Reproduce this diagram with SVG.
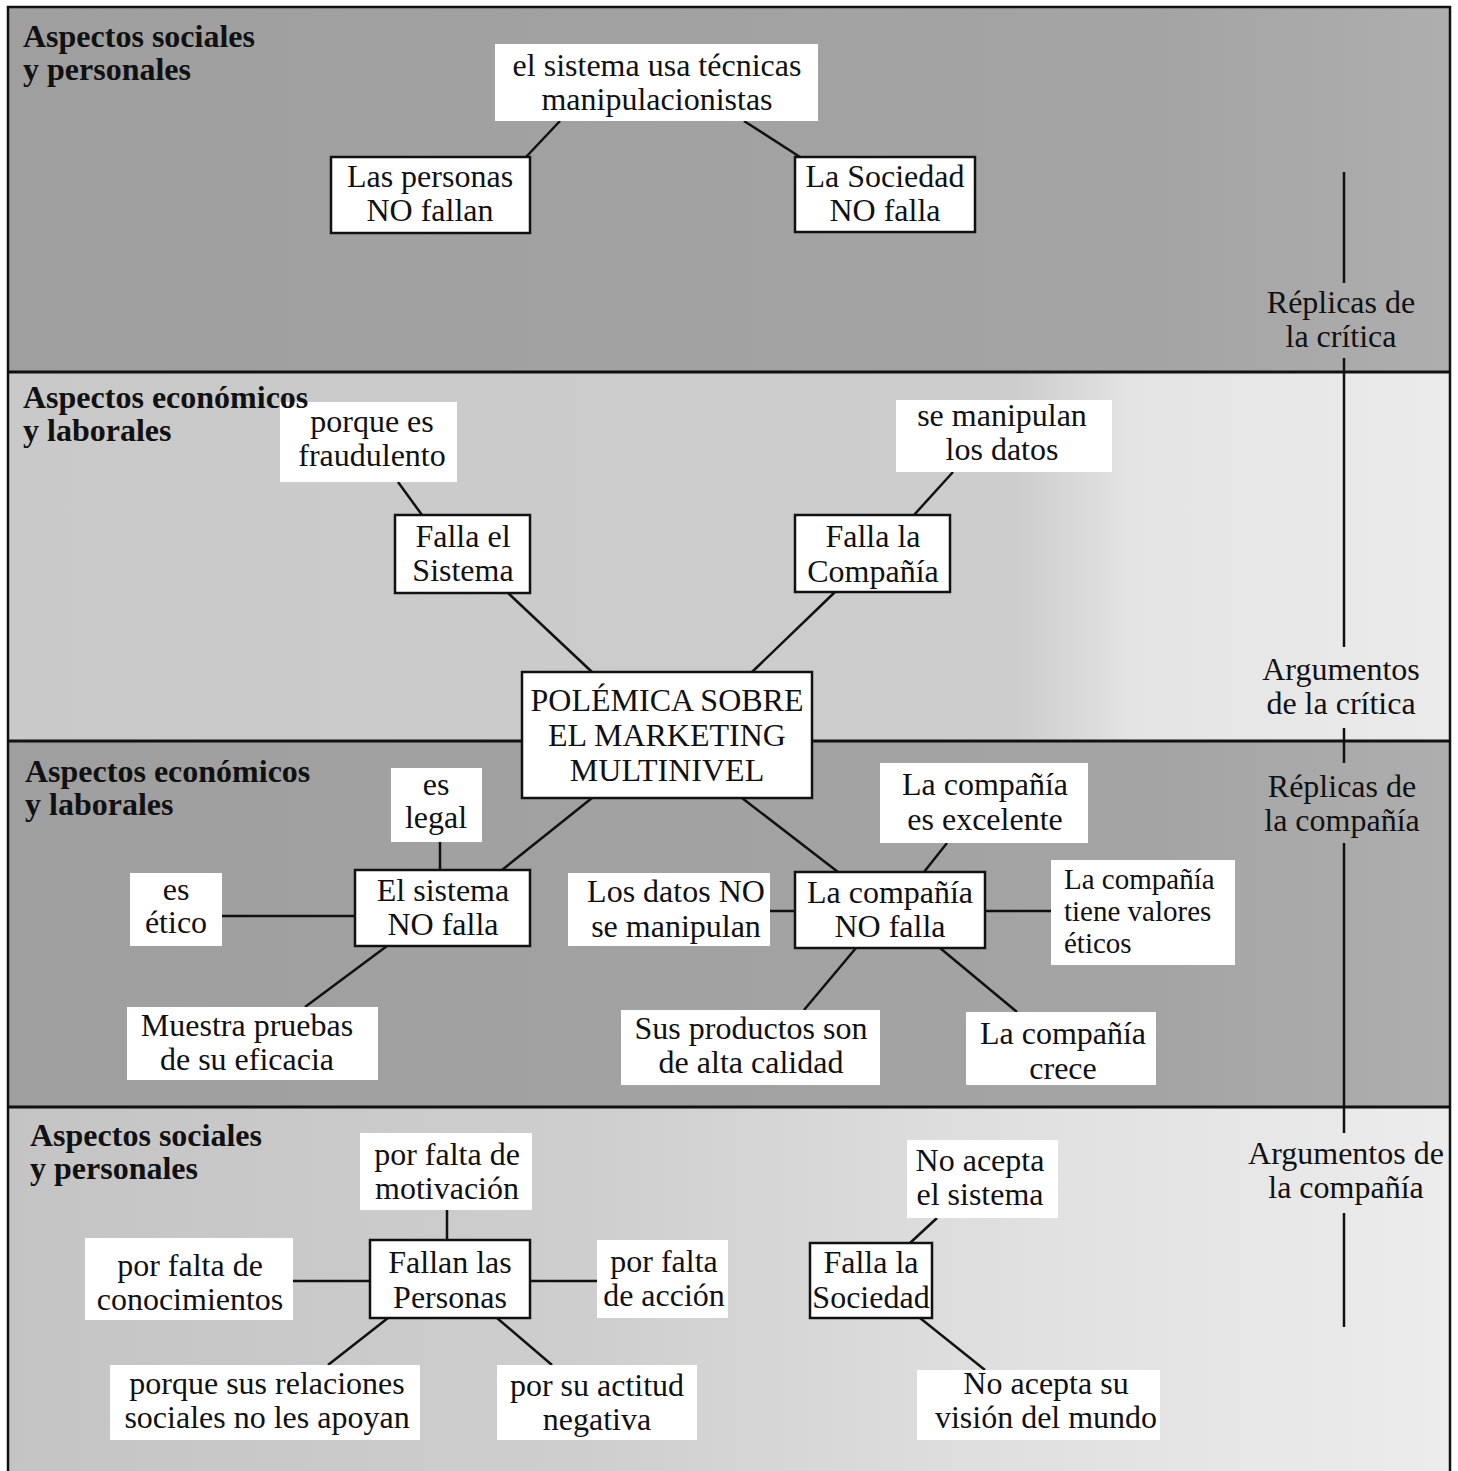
<svg xmlns="http://www.w3.org/2000/svg" width="1458" height="1471" viewBox="0 0 1458 1471">
  <defs>
    <linearGradient id="bandLight1" x1="0" y1="0" x2="1" y2="0">
      <stop offset="0" stop-color="#c9c9c9"/>
      <stop offset="0.7" stop-color="#cdcdcd"/>
      <stop offset="0.78" stop-color="#e4e4e4"/>
      <stop offset="1" stop-color="#ebebeb"/>
    </linearGradient>
    <linearGradient id="bandLight2" x1="0" y1="0" x2="1" y2="0">
      <stop offset="0" stop-color="#c4c4c4"/>
      <stop offset="0.4" stop-color="#cecece"/>
      <stop offset="0.7" stop-color="#e0e0e0"/>
      <stop offset="1" stop-color="#ececec"/>
    </linearGradient>
    <linearGradient id="bandDark" x1="0" y1="0" x2="1" y2="0">
      <stop offset="0" stop-color="#9f9f9f"/>
      <stop offset="0.8" stop-color="#a4a4a4"/>
      <stop offset="1" stop-color="#aeaeae"/>
    </linearGradient>
  </defs>
  <style>
    .box { fill: #ffffff; stroke: #111111; stroke-width: 2.5; }
    .note { fill: #ffffff; stroke: none; }
    text { font-family: "Liberation Serif", "Times New Roman", serif; fill: #111111; }
    .t { font-size: 32px; text-anchor: middle; }
    .tl { font-size: 29px; text-anchor: start; }
    .hd { font-size: 32px; font-weight: bold; }
    .side { font-size: 32px; text-anchor: middle; }
    .links line { stroke: #111111; stroke-width: 2.5; }
    .band-edge { stroke: #111111; stroke-width: 3; }
  </style>

  <rect x="0" y="0" width="1458" height="1471" fill="#ffffff"/>

  <!-- horizontal bands -->
  <g id="bands">
    <rect x="8" y="7" width="1442" height="365" fill="url(#bandDark)"/>
    <rect x="8" y="372" width="1442" height="369" fill="url(#bandLight1)"/>
    <rect x="8" y="741" width="1442" height="366" fill="url(#bandDark)"/>
    <rect x="8" y="1107" width="1442" height="370" fill="url(#bandLight2)"/>
    <line class="band-edge" x1="8" y1="372" x2="1450" y2="372"/>
    <line class="band-edge" x1="8" y1="741" x2="1450" y2="741"/>
    <line class="band-edge" x1="8" y1="1107" x2="1450" y2="1107"/>
    <path d="M8,1475 V7 H1450 V1475" fill="none" stroke="#111111" stroke-width="2.5"/>
  </g>

  <!-- side axis with its labels -->
  <g id="side-axis">
    <g class="links">
      <line x1="1344" y1="172" x2="1344" y2="283"/>
      <line x1="1344" y1="358" x2="1344" y2="647"/>
      <line x1="1344" y1="728" x2="1344" y2="763"/>
      <line x1="1344" y1="843" x2="1344" y2="1133"/>
      <line x1="1344" y1="1213" x2="1344" y2="1327"/>
    </g>
    <text class="side" x="1341" y="313">Réplicas de</text>
    <text class="side" x="1341" y="347">la crítica</text>
    <text class="side" x="1341" y="680">Argumentos</text>
    <text class="side" x="1341" y="714">de la crítica</text>
    <text class="side" x="1342" y="797">Réplicas de</text>
    <text class="side" x="1342" y="831">la compañía</text>
    <text class="side" x="1346" y="1164">Argumentos de</text>
    <text class="side" x="1346" y="1198">la compañía</text>
  </g>

  <!-- connectors -->
  <g id="connectors" class="links">
    <line x1="560" y1="121" x2="526" y2="157"/>
    <line x1="744" y1="121" x2="800" y2="157"/>
    <line x1="398" y1="482" x2="422" y2="515"/>
    <line x1="953" y1="472" x2="914" y2="515"/>
    <line x1="508" y1="593" x2="592" y2="672"/>
    <line x1="835" y1="592" x2="752" y2="672"/>
    <line x1="592" y1="798" x2="502" y2="870"/>
    <line x1="742" y1="798" x2="838" y2="872"/>
    <line x1="440" y1="842" x2="440" y2="870"/>
    <line x1="222" y1="916" x2="355" y2="916"/>
    <line x1="387" y1="946" x2="305" y2="1007"/>
    <line x1="770" y1="911" x2="795" y2="911"/>
    <line x1="947" y1="843" x2="924" y2="872"/>
    <line x1="985" y1="911" x2="1051" y2="911"/>
    <line x1="856" y1="948" x2="804" y2="1010"/>
    <line x1="940" y1="948" x2="1017" y2="1012"/>
    <line x1="447" y1="1210" x2="447" y2="1240"/>
    <line x1="293" y1="1281" x2="370" y2="1281"/>
    <line x1="530" y1="1281" x2="597" y2="1281"/>
    <line x1="388" y1="1318" x2="328" y2="1365"/>
    <line x1="497" y1="1318" x2="552" y2="1365"/>
    <line x1="937" y1="1218" x2="910" y2="1243"/>
    <line x1="920" y1="1318" x2="985" y2="1370"/>
  </g>

  <!-- nodes -->
  <g id="n-manip">
    <rect class="note" x="495" y="44" width="323" height="77"/>
    <text class="t" x="657" y="76">el sistema usa técnicas</text>
    <text class="t" x="657" y="110">manipulacionistas</text>
  </g>
  <g id="n-personas-no">
    <rect class="box" x="331" y="157" width="199" height="76"/>
    <text class="t" x="430" y="187">Las personas</text>
    <text class="t" x="430" y="221">NO fallan</text>
  </g>
  <g id="n-sociedad-no">
    <rect class="box" x="795" y="157" width="180" height="75"/>
    <text class="t" x="885" y="187">La Sociedad</text>
    <text class="t" x="885" y="221">NO falla</text>
  </g>
  <g id="n-fraud">
    <rect class="note" x="280" y="402" width="177" height="80"/>
    <text class="t" x="372" y="432">porque es</text>
    <text class="t" x="372" y="466">fraudulento</text>
  </g>
  <g id="n-falla-sistema">
    <rect class="box" x="395" y="515" width="135" height="78"/>
    <text class="t" x="463" y="547">Falla el</text>
    <text class="t" x="463" y="581">Sistema</text>
  </g>
  <g id="n-datos">
    <rect class="note" x="896" y="400" width="216" height="72"/>
    <text class="t" x="1002" y="426">se manipulan</text>
    <text class="t" x="1002" y="460">los datos</text>
  </g>
  <g id="n-falla-compania">
    <rect class="box" x="795" y="515" width="155" height="77"/>
    <text class="t" x="873" y="547">Falla la</text>
    <text class="t" x="873" y="582">Compañía</text>
  </g>
  <g id="n-polemica">
    <rect class="box" x="522" y="672" width="290" height="126"/>
    <text class="t" x="667" y="711">POLÉMICA SOBRE</text>
    <text class="t" x="667" y="746">EL MARKETING</text>
    <text class="t" x="667" y="781">MULTINIVEL</text>
  </g>
  <g id="n-legal">
    <rect class="note" x="391" y="768" width="91" height="74"/>
    <text class="t" x="436" y="795">es</text>
    <text class="t" x="436" y="828">legal</text>
  </g>
  <g id="n-etico">
    <rect class="note" x="130" y="873" width="92" height="73"/>
    <text class="t" x="176" y="900">es</text>
    <text class="t" x="176" y="933">ético</text>
  </g>
  <g id="n-sistema-no">
    <rect class="box" x="355" y="870" width="175" height="76"/>
    <text class="t" x="443" y="901">El sistema</text>
    <text class="t" x="443" y="935">NO falla</text>
  </g>
  <g id="n-pruebas">
    <rect class="note" x="127" y="1007" width="251" height="73"/>
    <text class="t" x="247" y="1036">Muestra pruebas</text>
    <text class="t" x="247" y="1070">de su eficacia</text>
  </g>
  <g id="n-datos-no">
    <rect class="note" x="568" y="873" width="202" height="73"/>
    <text class="t" x="676" y="902">Los datos NO</text>
    <text class="t" x="676" y="937">se manipulan</text>
  </g>
  <g id="n-compania-no">
    <rect class="box" x="795" y="872" width="190" height="76"/>
    <text class="t" x="890" y="903">La compañía</text>
    <text class="t" x="890" y="937">NO falla</text>
  </g>
  <g id="n-excelente">
    <rect class="note" x="880" y="763" width="208" height="80"/>
    <text class="t" x="985" y="795">La compañía</text>
    <text class="t" x="985" y="830">es excelente</text>
  </g>
  <g id="n-valores">
    <rect class="note" x="1051" y="860" width="184" height="105"/>
    <text class="tl" x="1064" y="889">La compañía</text>
    <text class="tl" x="1064" y="921">tiene valores</text>
    <text class="tl" x="1064" y="953">éticos</text>
  </g>
  <g id="n-calidad">
    <rect class="note" x="621" y="1010" width="259" height="75"/>
    <text class="t" x="751" y="1039">Sus productos son</text>
    <text class="t" x="751" y="1073">de alta calidad</text>
  </g>
  <g id="n-crece">
    <rect class="note" x="966" y="1012" width="190" height="73"/>
    <text class="t" x="1063" y="1044">La compañía</text>
    <text class="t" x="1063" y="1079">crece</text>
  </g>
  <g id="n-motivacion">
    <rect class="note" x="360" y="1133" width="172" height="77"/>
    <text class="t" x="447" y="1165">por falta de</text>
    <text class="t" x="447" y="1199">motivación</text>
  </g>
  <g id="n-conocimientos">
    <rect class="note" x="85" y="1238" width="208" height="82"/>
    <text class="t" x="190" y="1276">por falta de</text>
    <text class="t" x="190" y="1310">conocimientos</text>
  </g>
  <g id="n-fallan-personas">
    <rect class="box" x="370" y="1240" width="160" height="78"/>
    <text class="t" x="450" y="1273">Fallan las</text>
    <text class="t" x="450" y="1308">Personas</text>
  </g>
  <g id="n-accion">
    <rect class="note" x="597" y="1240" width="131" height="78"/>
    <text class="t" x="664" y="1272">por falta</text>
    <text class="t" x="664" y="1306">de acción</text>
  </g>
  <g id="n-relaciones">
    <rect class="note" x="110" y="1365" width="310" height="75"/>
    <text class="t" x="267" y="1394">porque sus relaciones</text>
    <text class="t" x="267" y="1428">sociales no les apoyan</text>
  </g>
  <g id="n-actitud">
    <rect class="note" x="497" y="1365" width="200" height="75"/>
    <text class="t" x="597" y="1396">por su actitud</text>
    <text class="t" x="597" y="1430">negativa</text>
  </g>
  <g id="n-falla-sociedad">
    <rect class="box" x="810" y="1243" width="122" height="75"/>
    <text class="t" x="871" y="1273">Falla la</text>
    <text class="t" x="871" y="1308">Sociedad</text>
  </g>
  <g id="n-acepta-sistema">
    <rect class="note" x="907" y="1140" width="151" height="78"/>
    <text class="t" x="980" y="1171">No acepta</text>
    <text class="t" x="980" y="1205">el sistema</text>
  </g>
  <g id="n-acepta-vision">
    <rect class="note" x="917" y="1370" width="243" height="70"/>
    <text class="t" x="1046" y="1394">No acepta su</text>
    <text class="t" x="1046" y="1428">visión del mundo</text>
  </g>

  <!-- band headings, drawn above the nodes -->
  <g id="headings">
    <text class="hd" x="23" y="47">Aspectos sociales</text>
    <text class="hd" x="23" y="80">y personales</text>
    <text class="hd" x="23" y="408">Aspectos económicos</text>
    <text class="hd" x="23" y="441">y laborales</text>
    <text class="hd" x="25" y="782">Aspectos económicos</text>
    <text class="hd" x="25" y="815">y laborales</text>
    <text class="hd" x="30" y="1146">Aspectos sociales</text>
    <text class="hd" x="30" y="1179">y personales</text>
  </g>
</svg>
